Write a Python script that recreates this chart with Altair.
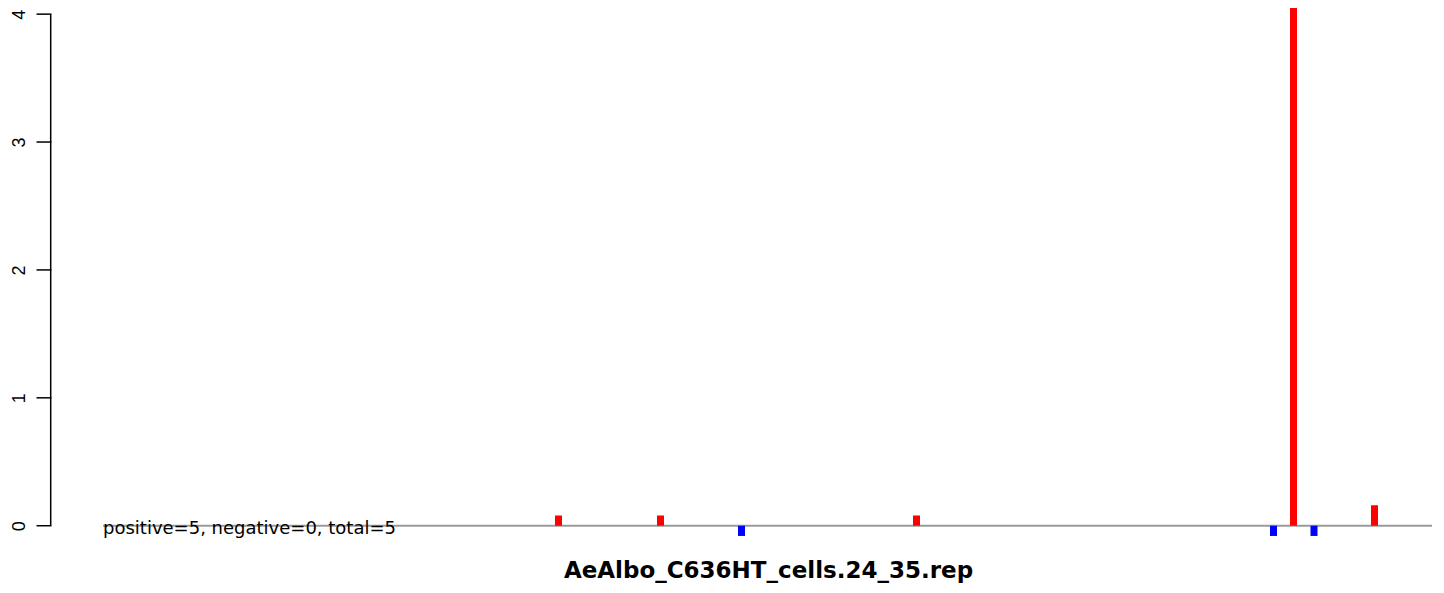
import altair as alt
import pandas as pd

# positions along the reference sequence (arbitrary units)
positions = [508.5, 610.5, 691.5, 866.5, 1223.5, 1243.5, 1264.0, 1324.5]
values = [0.08, 0.08, -0.08, 0.08, -0.08, 4.5, -0.08, 0.16]
strand = ["+", "+", "-", "+", "-", "+", "-", "+"]

summary_text = "positive=5, negative=0, total=5"
chart_title = "AeAlbo_C636HT_cells.24_35.rep"
y_ticks = [0, 1, 2, 3, 4]
line_start, line_end = 53, 1382
x_domain = [0, 1382]
y_domain = [-0.096, 4.048]

df = pd.DataFrame({"pos": positions, "value": values, "strand": strand})

W, H = 1382, 530
FONT = "Liberation Sans"
TFONT = "DejaVu Sans"

xscale = alt.Scale(domain=x_domain, nice=False, zero=False, padding=0)
yscale = alt.Scale(domain=y_domain, nice=False, zero=False, padding=0)

base_line = alt.Chart(pd.DataFrame({"a": [line_start], "b": [line_end]})).mark_rule(
    color="#9a9a9a", strokeWidth=2
).encode(
    x=alt.X("a:Q", scale=xscale, axis=alt.Axis(
        title=chart_title, domain=False, ticks=False, labels=False, grid=False,
        titleFont=TFONT, titleFontSize=23, titleFontWeight="bold", titleColor="black",
        titleX=718, titleY=39, titleAlign="center", titleBaseline="alphabetic", titleAnchor="start")),
    x2="b:Q",
    y=alt.datum(0, scale=yscale, axis=alt.Axis(
        values=y_ticks, domain=False, grid=False, title=None, ticks=False,
        labelAngle=270, labelAlign="center", labelBaseline="alphabetic",
        labelPadding=26, labelFont=FONT, labelFontSize=18, labelColor="black", format="d")),
)

yaxis_line = alt.Chart(pd.DataFrame({"lo": [y_ticks[0]], "hi": [y_ticks[-1]]})).mark_rule(
    color="#000000", strokeWidth=1.5
).encode(
    x=alt.value(0.7),
    y=alt.Y("lo:Q", scale=yscale),
    y2="hi:Q",
)

tick_marks = alt.Chart(pd.DataFrame({"t": y_ticks})).mark_rule(
    color="#000000", strokeWidth=1.5
).encode(
    x=alt.value(-13.5),
    x2=alt.value(1.4),
    y=alt.Y("t:Q", scale=yscale),
)

bars = alt.Chart(df).mark_bar(size=7, clip=True).encode(
    x=alt.X("pos:Q", scale=xscale),
    y=alt.Y("value:Q", scale=yscale),
    y2=alt.datum(0),
    color=alt.Color("strand:N", scale=alt.Scale(domain=["+", "-"], range=["#ff0000", "#0000ff"]), legend=None),
)

label = alt.Chart(pd.DataFrame({"x": [line_start], "y": [0], "t": [summary_text]})).mark_text(
    align="left", baseline="alphabetic", dy=8, font=TFONT, fontSize=18, color="black"
).encode(
    x=alt.X("x:Q", scale=xscale),
    y=alt.Y("y:Q", scale=yscale),
    text="t:N",
)

chart = alt.layer(base_line, yaxis_line, tick_marks, bars, label).properties(
    width=W, height=H,
    autosize=alt.AutoSizeParams(type="none"),
    padding={"left": 42, "top": 0, "right": 0, "bottom": 46},
    background="white",
).configure_view(stroke="transparent", strokeWidth=0)

chart.save("out.html", embed_options={"renderer": "svg", "actions": False})
